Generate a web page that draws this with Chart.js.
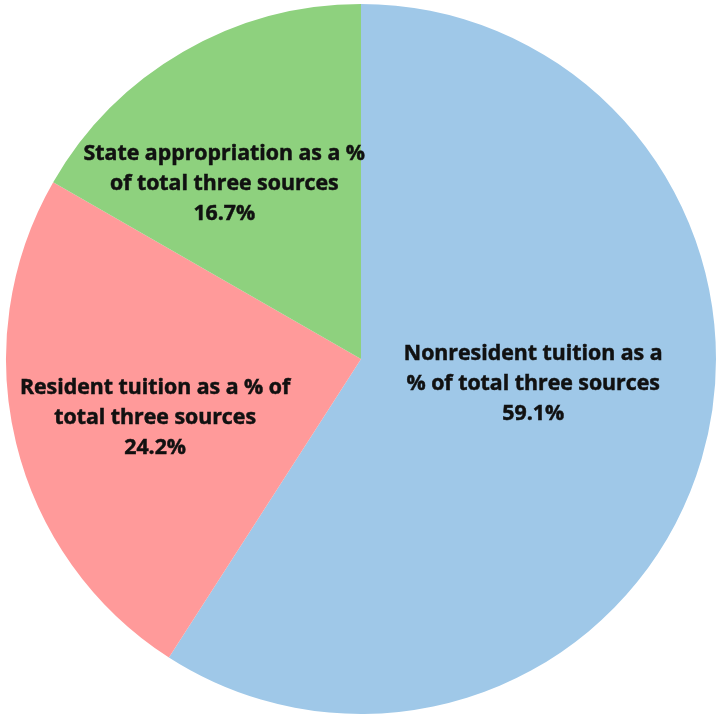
<!DOCTYPE html>
<html>
<head>
<meta charset="utf-8">
<script src="https://cdn.jsdelivr.net/npm/chart.js@4"></script>
<style>
  html, body { margin: 0; padding: 0; background: #ffffff; }
  #wrap { width: 719px; height: 723px; }
</style>
</head>
<body>
<div id="wrap"><canvas id="myChart" width="719" height="723"></canvas></div>
<script>
let categories = [
    'Nonresident tuition as a % of total three sources',
    'Resident tuition as a % of total three sources',
    'State appropriation as a % of total three sources'
  ];
let shares = [59.1, 24.2, 16.7];
let sliceColors = ['#9fc8e8', '#ff9a9a', '#8ed17e'];

// wrapped text of each data label (last line is the value)
let labelLines = [
    ['Nonresident tuition as a', '% of total three sources'],
    ['Resident tuition as a % of', 'total three sources'],
    ['State appropriation as a %', 'of total three sources']
  ];
// where each label block sits, as a fraction of the radius from the centre
let labelSpots = [
    [0.485, 0.071],
    [-0.58, 0.166],
    [-0.385, -0.494]
  ];

let pieLabels = {
    id: 'pieLabels',
    afterDatasetsDraw(chart){
      let ctx = chart.ctx;
      let meta = chart.getDatasetMeta(0);
      ctx.save();
      ctx.font = 'bold 21.3px "Open Sans", "DejaVu Sans", sans-serif';
      ctx.fillStyle = '#111111';
      ctx.strokeStyle = '#111111';
      ctx.lineWidth = 0.5;
      ctx.textAlign = 'center';
      ctx.textBaseline = 'middle';
      meta.data.forEach(function(arc, i){
        let r = arc.outerRadius;
        let cx = arc.x + labelSpots[i][0] * r;
        let cy = arc.y + labelSpots[i][1] * r;
        let lines = labelLines[i].concat([shares[i].toFixed(1) + '%']);
        let lineH = 30;
        let top = cy - (lines.length - 1) * lineH / 2;
        lines.forEach(function(line, k){
          ctx.fillText(line, cx, top + k * lineH);
          ctx.strokeText(line, cx, top + k * lineH);
        });
      });
      ctx.restore();
    }
  };

let data = {
    labels: categories,
    datasets: [{
      data: shares,
      backgroundColor: sliceColors,
      borderWidth: 0
    }]
  };

let config = {
    type: 'pie',
    data: data,
    options: {
      responsive: false,
      animation: false,
      layout: { padding: { left: 6, right: 3, top: 4, bottom: 9 } },
      plugins: {
        legend: { display: false },
        tooltip: { enabled: false }
      }
    },
    plugins: [pieLabels]
  };

let myChart = new Chart(document.getElementById('myChart'), config);
</script>
</body>
</html>
